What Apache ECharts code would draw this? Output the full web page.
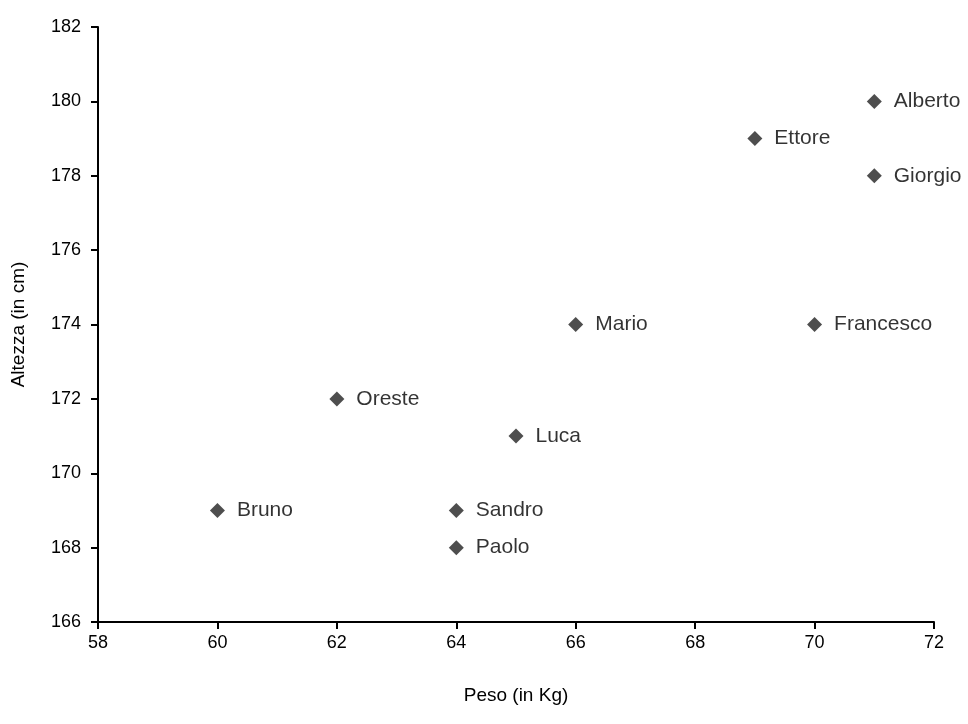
<!DOCTYPE html>
<html><head><meta charset="utf-8">
<script src="https://cdn.jsdelivr.net/npm/echarts@6/dist/echarts.min.js"></script>
<style>html,body{margin:0;padding:0;background:#fff}#c{width:968px;height:724px}</style>
</head><body><div id="c"></div>
<script>
const names = ["Alberto","Ettore","Giorgio","Mario","Francesco","Oreste","Luca","Bruno","Sandro","Paolo"];
const peso = [71,69,71,66,70,62,65,60,64,64];
const altezza = [180,179,178,174,174,172,171,169,169,168];
const xTitle = "Peso (in Kg)";
const yTitle = "Altezza (in cm)";

const data = names.map((n,i)=>({value:[peso[i],altezza[i]],name:n}));
const font = "Liberation Sans, Arial, sans-serif";
const chart = echarts.init(document.getElementById('c'));
chart.setOption({
  backgroundColor:'#fff',
  animation:false,
  grid:{left:98,right:34,top:27,bottom:102,containLabel:false,outerBoundsMode:'none'},
  xAxis:{type:'value',min:58,max:72,interval:2,
    name:xTitle,nameLocation:'middle',nameGap:64,
    nameTextStyle:{color:'#000',fontFamily:font,fontSize:19},
    axisLine:{show:true,lineStyle:{color:'#000',width:2}},
    axisTick:{show:true,length:7,lineStyle:{color:'#000',width:2}},
    axisLabel:{color:'#000',fontFamily:font,fontSize:18,margin:12},
    splitLine:{show:false}},
  yAxis:{type:'value',min:166,max:182,interval:2,
    name:yTitle,nameLocation:'middle',nameGap:70,nameRotate:90,
    nameTextStyle:{color:'#000',fontFamily:font,fontSize:19},
    axisLine:{show:true,lineStyle:{color:'#000',width:2}},
    axisTick:{show:true,length:7,lineStyle:{color:'#000',width:2}},
    axisLabel:{color:'#000',fontFamily:font,fontSize:18,margin:17},
    splitLine:{show:false}},
  series:[{type:'scatter',data:data,symbol:'diamond',symbolSize:15,
    itemStyle:{color:'#222'},
    label:{show:true,position:'right',distance:12,formatter:p=>p.name,
      color:'#000',fontFamily:font,fontSize:21}}]
});
</script></body></html>
